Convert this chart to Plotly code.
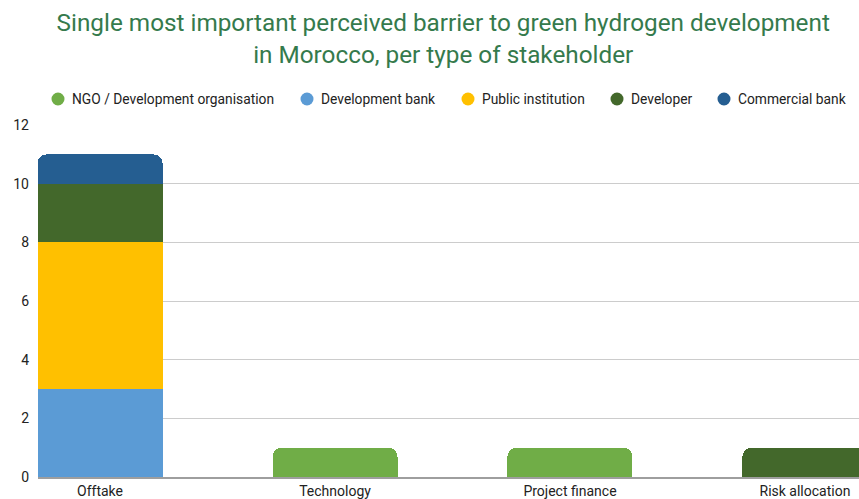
import plotly.graph_objects as go

# Barrier categories and stakeholder counts
categories = ["Offtake", "Technology", "Project finance", "Risk allocation"]
ngo = [None, 1, 1, None]
development_bank = [3, None, None, None]
public_institution = [5, None, None, None]
developer = [2, None, None, 1]
commercial_bank = [1, None, None, None]

series = [
    ("NGO / Development organisation", ngo, "#70AD47"),
    ("Development bank", development_bank, "#5B9BD5"),
    ("Public institution", public_institution, "#FFC000"),
    ("Developer", developer, "#43682B"),
    ("Commercial bank", commercial_bank, "#255E91"),
]

W, H = 859, 499
M_L, M_R, M_T, M_B = 38, 0, 125, 22
PLOT_W, PLOT_H = W - M_L - M_R, H - M_T - M_B

# Legend layout: circle centres in pixels across the top row
legend_px = [58, 307, 468, 617, 724]
legend_py = 99


def px_to_paper_x(px):
    return (px - M_L) / PLOT_W


def py_to_paper_y(py):
    return (H - M_B - py) / PLOT_H


fig = go.Figure()
for name, vals, color in series:
    fig.add_trace(go.Bar(
        x=categories, y=vals, name=name, marker_color=color,
        marker_line_width=0, showlegend=False,
        hovertemplate="%{x}<br>" + name + ": %{y}<extra></extra>",
    ))

# Horizontal legend drawn as circles with labels
ly = py_to_paper_y(legend_py)
for (name, _, color), cx in zip(series, legend_px):
    lx = px_to_paper_x(cx)
    fig.add_shape(
        type="circle", xref="paper", yref="paper",
        xsizemode="pixel", ysizemode="pixel",
        xanchor=lx, yanchor=ly, x0=-6.5, x1=6.5, y0=-6.5, y1=6.5,
        fillcolor=color, line_width=0,
    )
    fig.add_annotation(
        text=name, xref="paper", yref="paper",
        x=px_to_paper_x(cx + 12), y=ly, xanchor="left", yanchor="middle",
        showarrow=False, font=dict(size=13.8, color="#222222"),
    )

fig.update_layout(
    width=W, height=H,
    margin=dict(l=M_L, r=M_R, t=M_T, b=M_B),
    paper_bgcolor="white", plot_bgcolor="white",
    barmode="stack", bargap=0.468, barcornerradius=9,
    showlegend=False,
    font=dict(family="Roboto", size=14, color="#222222"),
    title=dict(
        text="Single most important perceived barrier to green hydrogen development<br>in Morocco, per type of stakeholder",
        x=0.516, xanchor="center", y=0.938, yanchor="top",
        font=dict(family="Roboto", size=24.3, color="#357A4C"),
    ),
    xaxis=dict(
        range=[-0.264, 3.23], showgrid=False, showline=True,
        linecolor="#9E9E9E", linewidth=2, ticks="",
        tickfont=dict(size=14, color="#222222"),
    ),
    yaxis=dict(
        range=[0, 12], tickvals=[0, 2, 4, 6, 8, 10, 12],
        showgrid=True, gridcolor="#CCCCCC", gridwidth=1,
        zeroline=False, ticks="", ticklabelstandoff=8,
        tickfont=dict(size=14, color="#222222"),
    ),
)

fig.write_html("out.html")
